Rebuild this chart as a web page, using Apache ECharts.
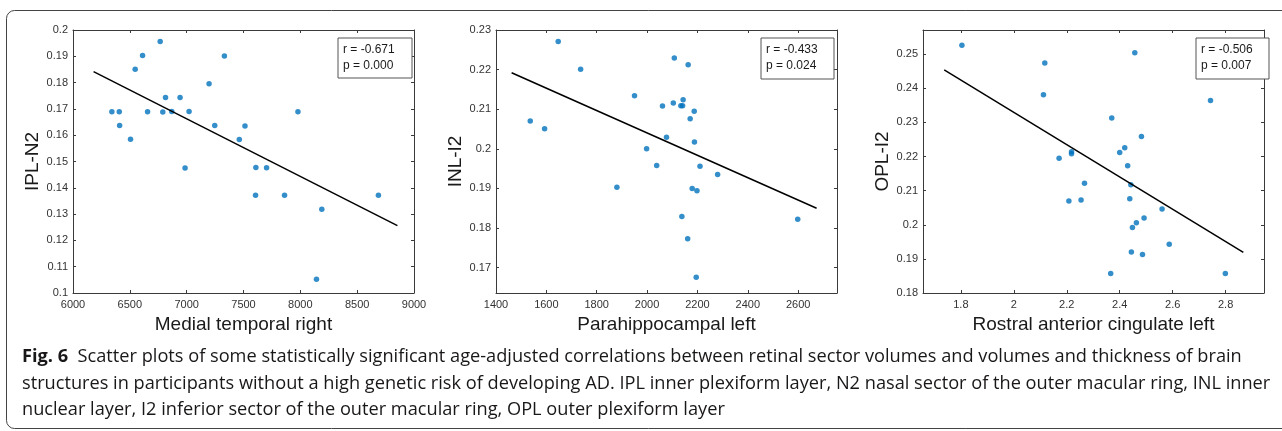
<!DOCTYPE html>
<html>
<head>
<meta charset="utf-8">
<script src="https://cdn.jsdelivr.net/npm/echarts@6/dist/echarts.min.js"></script>
<style>
  html, body { margin: 0; padding: 0; background: #fff; }
  #chart { width: 1282px; height: 431px; }
</style>
</head>
<body>
<div id="chart"></div>
<script>
// panel 1: medial temporal right vs IPL-N2
var mtRight = [6342, 6407, 6410, 6506, 6547, 6612, 6656, 6767, 6790, 6814, 6869, 6942, 6986, 7021,
  7197, 7247, 7332, 7463, 7513, 7606, 7609, 7703, 7861, 7979, 8142, 8189, 8687];
var iplN2 = [0.1689, 0.1689, 0.1637, 0.1585, 0.1851, 0.1903, 0.1689, 0.1956, 0.1688, 0.1743, 0.1690, 0.1743, 0.1475, 0.1690,
  0.1796, 0.1637, 0.1901, 0.1584, 0.1635, 0.1372, 0.1477, 0.1476, 0.1372, 0.1689, 0.1052, 0.1318, 0.1372];
var fit1X = [6181, 8854];
var fit1Y = [0.1842, 0.1256];

// panel 2: parahippocampal left vs INL-I2
var phLeft = [1536, 1593, 1647, 1736, 1880, 1950, 1998, 2038, 2061, 2077, 2104, 2108, 2134, 2141,
  2143, 2138, 2163, 2161, 2171, 2179, 2187, 2188, 2198, 2195, 2210, 2280, 2598];
var inlI2 = [0.2070, 0.2051, 0.2271, 0.2201, 0.1903, 0.2134, 0.2000, 0.1958, 0.2108, 0.2029, 0.2116, 0.2229, 0.2109, 0.2109,
  0.2124, 0.1829, 0.2212, 0.1773, 0.2076, 0.1900, 0.2095, 0.2017, 0.1894, 0.1676, 0.1956, 0.1935, 0.1822];
var fit2X = [1462, 2673];
var fit2Y = [0.2192, 0.1850];

// panel 3: rostral anterior cingulate left vs OPL-I2
var racLeft = [1.804, 2.117, 2.112, 2.171, 2.208, 2.218, 2.218, 2.254, 2.267, 2.366, 2.370, 2.400, 2.419, 2.430,
  2.442, 2.438, 2.444, 2.448, 2.457, 2.463, 2.482, 2.486, 2.492, 2.560, 2.587, 2.743, 2.799];
var oplI2 = [0.2526, 0.2474, 0.2381, 0.2195, 0.2070, 0.2214, 0.2208, 0.2073, 0.2122, 0.1857, 0.2313, 0.2212, 0.2226, 0.2173,
  0.2117, 0.2076, 0.1920, 0.1992, 0.2504, 0.2006, 0.2259, 0.1913, 0.2020, 0.2046, 0.1943, 0.2364, 0.1857];
var fit3X = [1.737, 2.867];
var fit3Y = [0.2454, 0.1919];

// tick labels
var xTicks1 = [6000, 6500, 7000, 7500, 8000, 8500, 9000];
var yTicks1 = [0.1, 0.11, 0.12, 0.13, 0.14, 0.15, 0.16, 0.17, 0.18, 0.19, 0.2];
var xTicks2 = [1400, 1600, 1800, 2000, 2200, 2400, 2600];
var yTicks2 = [0.17, 0.18, 0.19, 0.2, 0.21, 0.22, 0.23];
var xTicks3 = [1.8, 2, 2.2, 2.4, 2.6, 2.8];
var yTicks3 = [0.18, 0.19, 0.2, 0.21, 0.22, 0.23, 0.24, 0.25];

var xNames = ['Medial temporal right', 'Parahippocampal left', 'Rostral anterior cingulate left'];
var yNames = ['IPL-N2', 'INL-I2', 'OPL-I2'];
var rText = ['r = -0.671', 'r = -0.433', 'r = -0.506'];
var pText = ['p = 0.000', 'p = 0.024', 'p = 0.007'];

var panels = [
  { x: mtRight, y: iplN2, fx: fit1X, fy: fit1Y, xt: xTicks1, yt: yTicks1, xr: [6000, 9000], yr: [0.1, 0.2], left: 73, box: [338, 38, 74, 40] },
  { x: phLeft, y: inlI2, fx: fit2X, fy: fit2Y, xt: xTicks2, yt: yTicks2, xr: [1400, 2754], yr: [0.1636, 0.23], left: 496, box: [761, 38, 73, 41] },
  { x: racLeft, y: oplI2, fx: fit3X, fy: fit3Y, xt: xTicks3, yt: yTicks3, xr: [1.657, 2.945], yr: [0.18, 0.2571], left: 923, box: [1196, 38, 73, 41] }
];

var axisColor = '#3a3a3a';
var fmt = function (v) { return String(+v.toFixed(4)); };

var grid = [], xAxis = [], yAxis = [], series = [], graphic = [];

panels.forEach(function (p, i) {
  grid.push({ left: p.left, top: 30, width: 341, height: 263 });
  var baseX = {
    type: 'value', gridIndex: i, min: p.xr[0], max: p.xr[1],
    axisLine: { show: true, onZero: false, lineStyle: { color: axisColor, width: 1 } },
    axisTick: { show: true, inside: true, length: 3, customValues: p.xt, lineStyle: { color: axisColor } },
    splitLine: { show: false }
  };
  var baseY = {
    type: 'value', gridIndex: i, min: p.yr[0], max: p.yr[1],
    axisLine: { show: true, onZero: false, lineStyle: { color: axisColor, width: 1 } },
    axisTick: { show: true, inside: true, length: 3, customValues: p.yt, lineStyle: { color: axisColor } },
    splitLine: { show: false }
  };
  xAxis.push(Object.assign({}, baseX, {
    position: 'bottom',
    name: xNames[i], nameLocation: 'middle', nameGap: 22,
    nameTextStyle: { fontFamily: 'Liberation Sans', fontSize: 19, color: '#1a1a1a' },
    axisLabel: { show: true, customValues: p.xt, margin: 6, formatter: fmt,
      fontFamily: 'Liberation Sans', fontSize: 11, color: '#333' }
  }));
  xAxis.push(Object.assign({}, baseX, { position: 'top', axisLabel: { show: false } }));
  yAxis.push(Object.assign({}, baseY, {
    position: 'left',
    name: yNames[i], nameLocation: 'middle', nameGap: 28,
    nameTextStyle: { fontFamily: 'Liberation Sans', fontSize: 19, color: '#1a1a1a' },
    axisLabel: { show: true, customValues: p.yt, margin: 5, formatter: fmt,
      fontFamily: 'Liberation Sans', fontSize: 11, color: '#333' }
  }));
  yAxis.push(Object.assign({}, baseY, { position: 'right', axisLabel: { show: false } }));

  series.push({
    type: 'scatter', xAxisIndex: i * 2, yAxisIndex: i * 2,
    symbolSize: 5.5, itemStyle: { color: '#0072BD' },
    data: p.x.map(function (v, k) { return [v, p.y[k]]; }),
    silent: true
  });
  series.push({
    type: 'line', xAxisIndex: i * 2, yAxisIndex: i * 2,
    showSymbol: false, lineStyle: { color: '#000', width: 1.5 },
    data: [[p.fx[0], p.fy[0]], [p.fx[1], p.fy[1]]],
    silent: true
  });

  // stats box
  graphic.push({
    type: 'rect', z: 100,
    shape: { x: p.box[0], y: p.box[1], width: p.box[2], height: p.box[3] },
    style: { fill: '#fff', stroke: '#555', lineWidth: 1 }
  });
  graphic.push({
    type: 'text', z: 101, left: p.box[0] + 5, top: p.box[1] + 4,
    style: { text: rText[i] + '\n' + pText[i], fontFamily: 'Liberation Sans', fontSize: 12,
      lineHeight: 16, fill: '#1a1a1a' }
  });
});

// outer rounded frame
graphic.push({
  type: 'rect', z: -1,
  shape: { x: 6.5, y: 10.5, width: 1300, height: 418, r: 8 },
  style: { fill: 'none', stroke: '#444', lineWidth: 1 }
});

// caption
var capFont = 'Open Sans';
var capSize = 18.2;
graphic.push({
  type: 'text', left: 22, top: 348,
  style: {
    text: '{b|Fig. 6}  Scatter plots of some statistically significant age-adjusted correlations between retinal sector volumes and volumes and thickness of brain',
    fontFamily: capFont, fontSize: capSize, fill: '#1a1718',
    rich: { b: { fontFamily: capFont, fontWeight: 'bold', fontSize: capSize, fill: '#1a1718' } }
  }
});
graphic.push({
  type: 'text', left: 22, top: 375,
  style: {
    text: 'structures in participants without a high genetic risk of developing AD. IPL inner plexiform layer, N2 nasal sector of the outer macular ring, INL inner',
    fontFamily: capFont, fontSize: capSize, fill: '#1a1718'
  }
});
graphic.push({
  type: 'text', left: 22, top: 401,
  style: {
    text: 'nuclear layer, I2 inferior sector of the outer macular ring, OPL outer plexiform layer',
    fontFamily: capFont, fontSize: capSize, fill: '#1a1718'
  }
});

var myChart = echarts.init(document.getElementById('chart'));
myChart.setOption({
  animation: false,
  backgroundColor: '#fff',
  grid: grid,
  xAxis: xAxis,
  yAxis: yAxis,
  series: series,
  graphic: graphic
});
</script>
</body>
</html>
